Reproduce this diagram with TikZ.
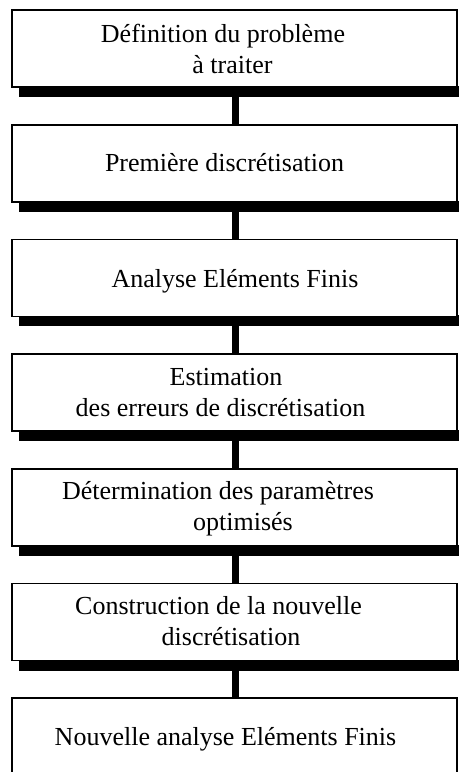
\documentclass[tikz,border=0pt]{standalone}
\usepackage{fontspec}
\setmainfont{Liberation Serif}
\begin{document}
\begin{tikzpicture}[x=1pt,y=-1pt,
  stepbox/.style={draw=black,line width=1.6pt,fill=white,rectangle,
    minimum width=445pt,minimum height=77pt,inner sep=0pt,outer sep=0pt},
  lastbox/.style={stepbox,minimum height=120pt},
  shadowbar/.style={fill=black},
  link/.style={draw=black,line width=7pt},
  txt/.style={anchor=base,inner sep=0pt,font=\fontsize{26}{31}\selectfont}]
\clip (0,0) rectangle (460,772);
\fill[white] (0,0) rectangle (460,772);

% bars under the boxes (drawn first so the boxes sit on top)
\foreach \t in {10,124.7,239.4,354.1,468.8,583.5}
  \fill[shadowbar] (19,\t+76) rectangle (459,\t+87);

% boxes
\node[stepbox] (b1) at (234.5,48.5)  {};
\node[stepbox] (b2) at (234.5,163.2) {};
\node[stepbox] (b3) at (234.5,277.9) {};
\node[stepbox] (b4) at (234.5,392.6) {};
\node[stepbox] (b5) at (234.5,507.3) {};
\node[stepbox] (b6) at (234.5,622.0) {};
\node[lastbox] (b7) at (234.5,758.2) {};

% vertical links between successive boxes
\foreach \a/\b in {b1/b2,b2/b3,b3/b4,b4/b5,b5/b6,b6/b7}
  \draw[link] ([xshift=1pt,yshift=-10pt]\a.south) -- ([xshift=1pt]\b.north);

% texts
\node[txt] (t1a) at (223,42)    {Définition du problème};
\node[txt] (t1b) at (232.5,73)  {à traiter};
\node[txt] (t2)  at (224.5,171.7) {Première discrétisation};
\node[txt] (t3)  at (235,287)   {Analyse Eléments Finis};
\node[txt] (t4a) at (226,385)   {Estimation};
\node[txt] (t4b) at (220.5,416) {des erreurs de discrétisation};
\node[txt] (t5a) at (218,499)   {Détermination des paramètres};
\node[txt] (t5b) at (243,530)   {optimisés};
\node[txt] (t6a) at (218.5,614) {Construction de la nouvelle};
\node[txt] (t6b) at (231,645)   {discrétisation};
\node[txt] (t7)  at (225.5,745) {Nouvelle analyse Eléments Finis};
\end{tikzpicture}
\end{document}
